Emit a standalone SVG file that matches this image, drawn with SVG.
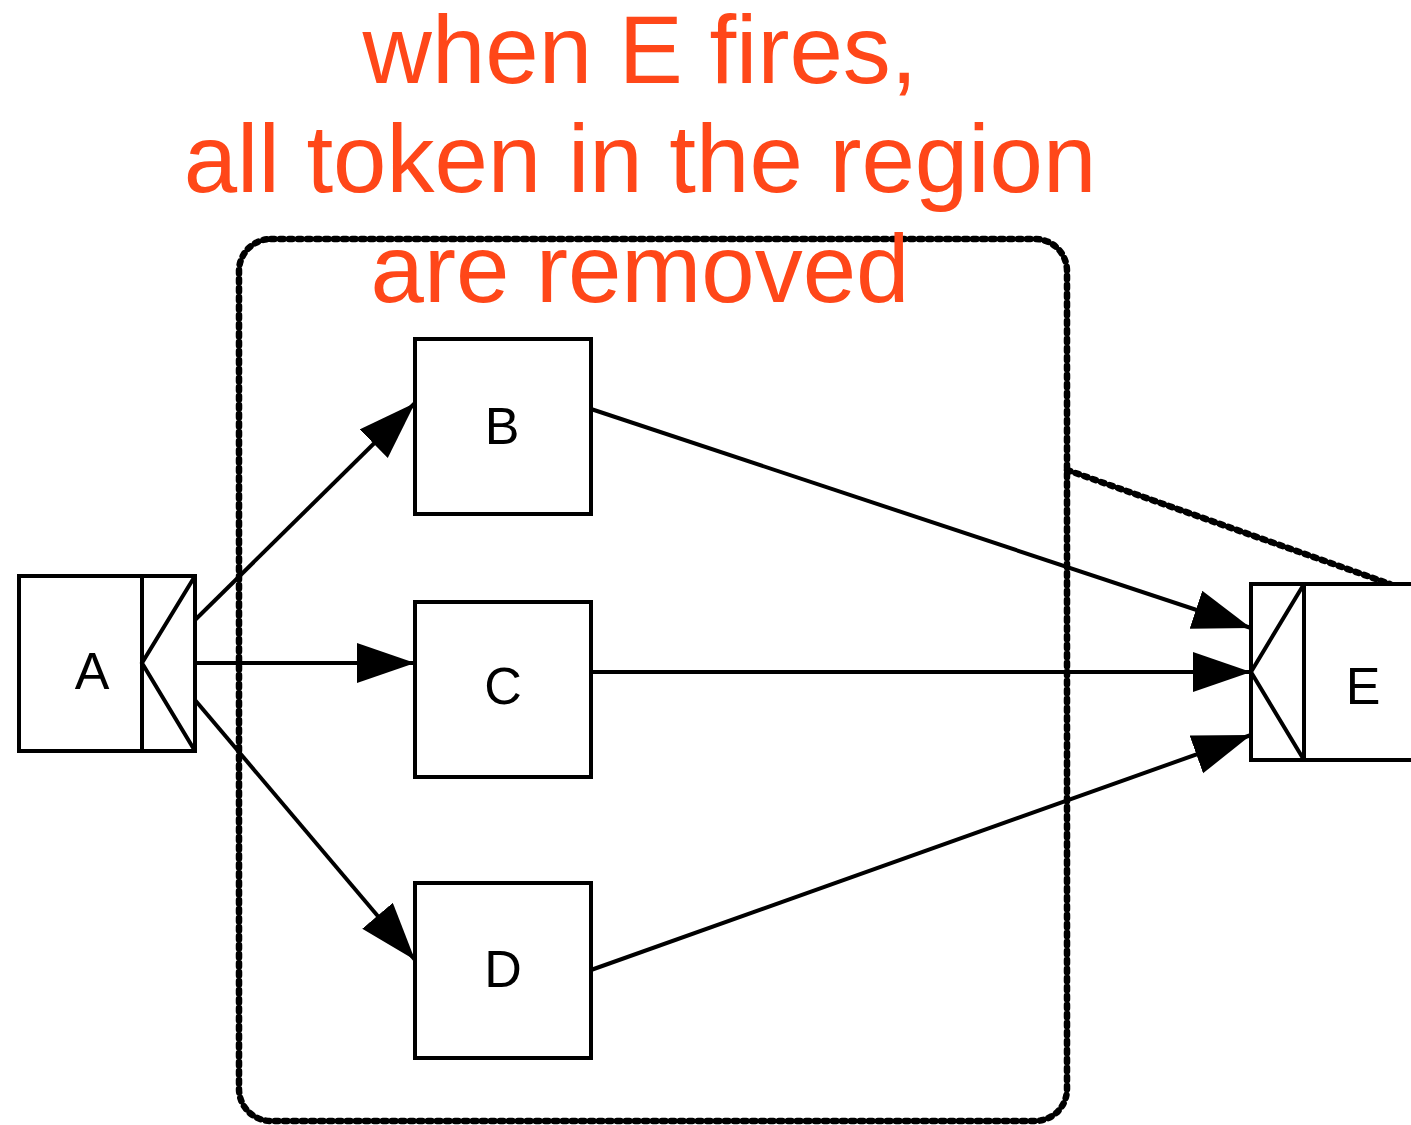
<svg xmlns="http://www.w3.org/2000/svg" width="1411" height="1125" viewBox="0 0 1411 1125">
<style>
.box{fill:#fff;stroke:#000;stroke-width:4}
.ln{fill:none;stroke:#000;stroke-width:4}
.lbl{font-family:"Liberation Sans",Arial,sans-serif;font-size:52px;fill:#000;text-anchor:middle}
.note{font-family:"Liberation Sans",Arial,sans-serif;font-size:96px;fill:#FF4719;text-anchor:middle}
.dot{fill:none;stroke:#000;stroke-width:6.5;stroke-dasharray:3.5 5.5;stroke-linecap:round}
</style>
<defs>
<marker id="arr" markerWidth="60" markerHeight="44" refX="58" refY="20" orient="auto" markerUnits="userSpaceOnUse">
<path d="M0,0 L58,20 L0,40 Z" fill="#000"/>
</marker>
</defs>
<g id="region">
<rect class="dot" x="239" y="239" width="828" height="882" rx="32"/>
<line class="dot" x1="1067" y1="470" x2="1390" y2="584"/>
</g>
<g id="note">
<text class="note" x="640" y="83">when E fires,</text>
<text class="note" x="640" y="192">all token in the region</text>
<text class="note" x="640" y="302">are removed</text>
</g>
<g id="A">
<rect class="box" x="19" y="576" width="176" height="175"/>
<line class="ln" x1="142" y1="576" x2="142" y2="751"/>
<polyline class="ln" points="195,576 142,663 195,751"/>
<text class="lbl" x="92" y="689">A</text>
</g>
<g id="B">
<rect class="box" x="415" y="339" width="176" height="175"/>
<text class="lbl" x="502" y="444">B</text>
</g>
<g id="C">
<rect class="box" x="415" y="602" width="176" height="175"/>
<text class="lbl" x="503" y="704">C</text>
</g>
<g id="D">
<rect class="box" x="415" y="883" width="176" height="175"/>
<text class="lbl" x="503" y="987">D</text>
</g>
<g id="E">
<rect class="box" x="1251" y="584" width="175" height="176"/>
<line class="ln" x1="1304" y1="584" x2="1304" y2="760"/>
<polyline class="ln" points="1304,584 1251,672 1304,760"/>
<text class="lbl" x="1363" y="704">E</text>
</g>
<g id="connectors">
<line class="ln" x1="195" y1="620" x2="415" y2="403" marker-end="url(#arr)"/>
<line class="ln" x1="195" y1="663" x2="415" y2="663" marker-end="url(#arr)"/>
<line class="ln" x1="195" y1="700" x2="415" y2="960" marker-end="url(#arr)"/>
<line class="ln" x1="591" y1="409" x2="1251" y2="628" marker-end="url(#arr)"/>
<line class="ln" x1="591" y1="672" x2="1251" y2="672" marker-end="url(#arr)"/>
<line class="ln" x1="591" y1="970" x2="1251" y2="735" marker-end="url(#arr)"/>
</g>
</svg>
